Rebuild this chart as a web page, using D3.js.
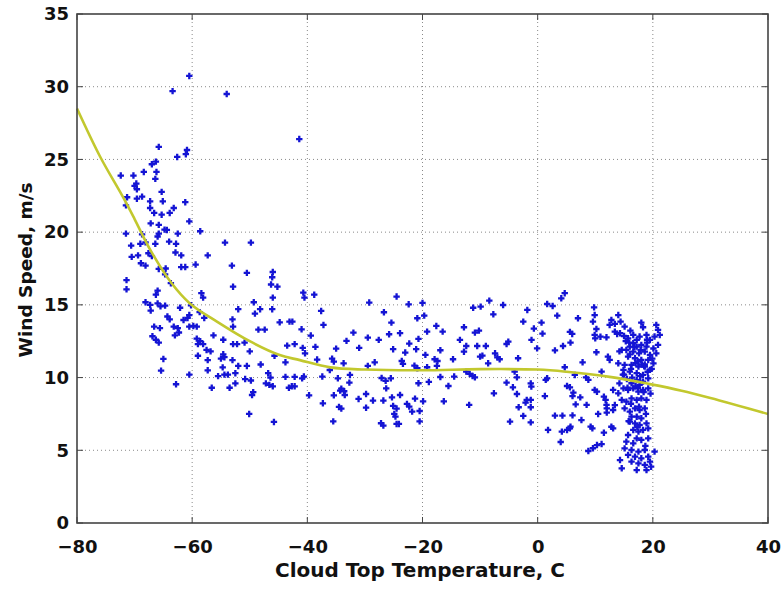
<!DOCTYPE html>
<html><head><meta charset="utf-8">
<script src="https://cdn.jsdelivr.net/npm/d3@7"></script>
<style>body{margin:0;background:#fff}svg text{font-family:"DejaVu Sans",sans-serif;font-weight:bold}</style>
</head><body>
<svg id="c" width="783" height="592"></svg>
<script>
const xTicks=[-80,-60,-40,-20,0,20,40];
const yTicks=[0,5,10,15,20,25,30,35];
const xLabel="Cloud Top Temperature, C";
const yLabel="Wind Speed, m/s";

// scatter: cloud top temperature (C)
const tempC=[
-60.5,-63.4,-54.0,-41.4,-65.8,-60.9,-61.1,-62.6,-66.3,-67.0,-66.2,-68.4,-72.4,-70.2,-66.4,-69.7,-70.0,-69.6,-71.3,-68.7,-65.3,-69.6,-67.3,-71.5,-65.1,-61.2,-67.3,-63.2,-66.6,-65.3,-63.9,-60.5,-67.2,-65.8,-64.8,-64.4,-71.5,-68.7,-62.5,-58.6,-65.8,-66.0,-70.6,-69.0,-68.1,-66.4,-64.0,-62.8,-54.3,-49.8,
-70.5,-69.4,-67.6,-67.0,-62.9,-61.9,-57.3,-68.9,-68.1,-65.8,-64.6,-61.9,-61.2,-59.4,-53.1,-50.5,-46.0,-46.1,-64.7,-71.4,-71.4,-63.7,-52.9,-46.3,-45.2,-66.0,-66.3,-58.4,-58.1,-46.0,-68.1,-67.3,-66.0,-65.5,-64.7,-67.2,-60.2,-49.3,-46.1,-52.0,-49.1,-48.2,-62.1,-58.7,-64.3,-63.9,-61.5,-60.8,-60.5,-57.9,-53.0,-44.8,-43.1,-42.6,-66.6,-65.6,-63.2,-62.5,-60.5,-59.8,-59.2,-52.9,-48.5,-47.4,-62.3,-63.0,-66.9,-66.3,-65.8,-59.2,-56.3,-54.6,-58.6,-59.0,-58.1,-52.9,-52.2,-50.9,-43.5,-42.2,-59.0,-57.5,-56.8,-54.6,-50.0,-65.0,-57.3,-55.0,-54.4,-53.0,-52.0,-50.5,-48.1,-45.7,-43.8,-65.4,-57.3,-54.7,-60.5,-55.5,-54.4,-53.8,-52.5,-50.8,-49.8,-46.8,-46.4,-43.8,-42.2,-62.8,-56.6,-53.5,-52.5,-49.4,-49.6,-47.2,-46.6,-46.0,-43.2,-42.7,-42.2,-50.1,-45.8,
-40.7,-40.5,-38.8,-29.25,-24.5,-22.4,-20.0,-37.6,-26.7,-19.7,-20.9,-37.2,-25.4,-17.6,-16.5,-41.0,-32.0,-25.8,-23.9,-19.2,-39.4,-29.5,-27.6,-33.2,-22.3,-20.7,-40.8,-38.6,-35.0,-31.0,-25.1,-21.1,-16.9,-40.4,-23.0,-19.5,-38.3,-35.7,-35.4,-28.3,-23.6,-17.9,-17.4,-14.7,-36.1,-33.7,-29.5,-23.4,-21.4,-19.2,-17.5,-20.9,-40.6,-40.9,-37.4,-34.7,-32.6,-27.1,-25.5,-16.9,-14.5,-32.7,-26.4,-26.3,-20.7,-18.9,-15.5,-34.1,-33.6,-33.5,-34.3,-35.4,-39.7,-31.1,-29.8,-28.6,-26.8,-25.3,-23.9,-21.3,-19.9,-37.3,-34.5,-34.1,-29.8,-25.1,-24.5,-22.7,-22.3,-21.8,-20.5,-16.3,-24.9,-24.7,-24.5,-24.1,-27.2,-26.8,-35.5,-20.5,
4.7,4.1,-8.4,-11.2,-9.9,-6.0,1.65,2.6,9.8,-7.7,-1.8,3.4,7.0,9.9,-2.5,0.67,9.6,-12.8,-0.66,10.2,-10.9,-10.2,0.84,5.6,6.0,9.9,10.0,10.9,11.95,-13.5,-1.07,-5.1,-5.4,5.7,4.4,-12.4,-10.5,-9.0,-0.1,3.0,-12.8,10.2,-7.4,-10.0,-9.6,-7.0,-6.6,-3.4,12.2,-8.6,7.8,4.7,11.1,-12.4,-11.8,-11.3,-10.9,-4.0,-3.6,1.4,1.65,6.45,8.4,8.8,-5.4,-1.2,-4.3,-1.1,5.1,5.6,9.9,10.3,-7.6,-3.6,6.2,6.05,1.25,7.4,11.5,11.8,-1.9,-1.2,-2.1,-1.2,-11.9,-3.3,6.6,8.5,11.96,-2.5,3.0,4.3,6.05,10.5,12.0,-4.8,-1.2,7.6,5.7,1.8,4.2,5.1,5.6,9.2,9.5,11.5,4.0,8.8,9.6,10.3,11.1,
14.0,12.8,13.4,12.5,14.4,15.1,16.1,18.0,18.3,20.6,20.9,21.2,20.3,13.4,14.3,15.0,15.7,16.6,17.2,17.7,18.9,19.5,16.6,16.0,17.2,18.0,18.9,20.1,20.9,15.4,16.6,17.6,18.6,19.5,20.6,15.7,16.9,18.0,19.2,20.1,12.5,14.0,15.1,16.3,17.5,18.6,19.5,14.9,16.0,17.2,18.3,19.2,17.2,18.3,16.3,17.7,
13.1,14.0,14.9,15.7,16.6,17.5,18.3,19.2,13.4,14.6,15.4,16.3,17.2,18.0,18.9,12.0,13.1,15.1,16.0,16.9,17.7,18.6,16.3,17.2,18.0,16.0,16.9,17.7,18.9,16.6,17.5,18.3,19.2,13.1,12.8,15.7,17.2,18.0,19.2,15.4,16.6,15.1,16.3,17.5,18.6,20.3,15.7,16.9,18.0,19.2,14.3,16.3,17.5,18.6,19.5,14.6,17.2,18.9,19.7,
14.8,15.5,16.2,17.0,17.8,18.5,19.0,14.2,15.9,17.4,18.1,19.8,
13.8,15.3,16.8,17.9,19.0,14.6,16.0,17.4,18.6,19.9,15.0,16.4,17.8,19.1,14.2,15.6,17.0,18.4,19.6,16.2,17.6,18.8,15.8,17.3,18.7
];
// scatter: wind speed (m/s)
const windSpeed=[
30.74,29.7,29.5,26.4,25.86,25.65,25.36,25.17,24.85,24.67,24.14,24.14,23.89,23.89,23.66,23.34,23.18,22.95,22.4,22.44,22.77,22.3,22.12,21.84,22.12,22.06,21.66,21.66,21.32,21.2,21.32,20.74,20.6,20.5,20.17,20.15,19.9,19.85,19.9,20.06,19.9,19.7,19.07,19.2,19.3,19.2,19.35,19.2,19.28,19.28,
18.3,18.4,18.55,18.35,18.6,18.4,18.4,17.86,17.7,17.47,17.5,17.6,17.6,17.77,17.7,17.2,17.26,16.9,17.1,16.7,16.07,16.49,16.25,16.4,16.25,15.98,15.7,15.8,15.5,15.5,15.18,15.0,15.1,14.9,14.95,14.6,14.97,15.18,14.7,14.7,14.4,14.7,14.8,14.5,14.2,14.0,13.96,14.1,14.3,14.1,14.0,13.8,13.85,13.85,13.5,13.4,13.5,13.4,13.5,13.55,13.5,13.5,13.3,13.3,13.1,12.9,12.84,12.6,12.4,12.68,12.9,12.6,12.5,12.3,12.3,12.3,12.3,12.4,12.2,12.3,11.5,11.9,11.8,11.6,11.8,11.28,11.2,11.3,11.4,11.2,10.8,10.8,10.9,11.5,11.05,10.48,10.5,10.7,10.2,10.1,10.2,10.2,10.3,9.9,9.8,10.3,10.0,10.05,10.05,9.54,9.3,9.3,9.6,9.0,8.8,9.6,9.5,9.4,9.3,9.4,9.4,7.5,6.95,
15.84,15.5,15.7,15.16,15.57,15.04,15.13,14.58,14.49,14.26,14.08,13.62,13.78,13.55,13.16,13.32,13.09,12.98,13.05,13.16,12.89,12.75,12.59,12.52,12.34,12.66,12.04,12.11,11.99,12.04,11.95,11.95,11.88,11.67,11.72,11.56,11.24,11.3,11.1,11.05,11.14,11.26,11.14,11.26,10.52,10.98,10.8,10.94,10.82,10.71,10.8,10.64,10.07,9.95,10.07,9.95,10.18,9.97,9.95,10.04,10.07,9.65,9.77,9.26,9.61,9.7,9.42,9.24,9.06,8.8,9.1,8.78,8.78,8.53,8.87,8.42,8.42,8.64,8.8,8.55,8.37,8.23,7.98,7.87,7.93,8.05,7.87,8.19,8.0,7.66,7.7,8.37,7.5,7.32,6.81,6.81,6.86,6.7,6.99,6.99,
15.8,15.45,15.29,14.8,14.88,14.99,15.06,14.92,14.83,14.35,14.65,14.26,14.08,14.3,13.85,13.78,13.85,13.46,13.37,13.34,13.09,13.23,13.02,13.14,13.0,12.93,12.7,12.81,12.77,12.59,12.59,12.47,12.31,12.4,12.17,12.17,12.17,12.17,12.01,11.87,11.78,11.74,11.67,11.44,11.51,11.39,11.26,11.33,11.44,10.98,11.05,10.71,10.41,10.41,10.25,10.11,10.02,10.41,10.02,9.84,9.95,10.18,10.02,9.84,9.65,9.6,9.33,9.38,9.42,9.33,9.15,9.03,8.92,8.87,8.96,8.73,8.73,8.64,8.69,8.46,8.46,8.46,8.28,7.96,8.12,7.96,8.16,8.12,8.12,7.36,7.38,7.38,7.4,7.5,7.59,6.97,6.92,7.08,6.63,6.4,6.28,6.4,6.51,6.63,6.51,6.21,5.57,4.95,5.14,5.36,5.43,
14.3,13.96,13.69,13.62,13.85,13.5,13.23,13.78,13.46,13.62,13.28,12.93,12.82,13.16,13.05,12.86,12.7,12.93,12.59,12.82,12.93,12.59,12.36,12.13,12.13,12.25,12.13,12.0,12.25,11.9,11.79,11.67,11.79,11.56,11.67,11.44,11.33,11.21,11.21,10.98,11.21,10.98,10.87,10.87,10.76,10.76,10.53,10.53,10.41,10.3,10.18,9.95,9.84,9.72,9.61,9.5,
9.15,8.92,9.26,9.15,9.26,9.03,9.15,9.26,8.11,8.46,8.34,8.57,8.46,8.57,8.46,7.88,7.77,7.88,7.66,7.88,7.77,7.88,7.31,7.31,7.2,6.97,6.85,6.74,6.85,6.4,6.28,6.4,6.51,6.51,6.62,6.05,5.82,5.71,5.82,5.59,5.48,5.13,5.02,4.91,5.02,4.91,4.68,4.56,4.45,4.56,4.33,4.22,4.1,3.99,4.22,3.76,3.64,3.64,3.87,
10.2,9.9,10.6,11.0,9.7,10.8,12.6,11.8,12.4,9.3,10.9,10.6,
13.0,12.5,12.1,11.9,12.4,11.9,11.6,11.1,10.9,11.3,10.2,10.0,10.1,10.4,9.6,9.3,9.4,9.0,8.9,8.2,8.0,7.5,7.0,6.6,5.3
];

// fitted curve
const fitTemp=[-80,-76,-72,-70,-67.3,-63.6,-60.4,-55.7,-50,-44.8,-41.3,-36,-30,-20,-10,0,5,12.5,19.5,25,30,40];
const fitSpeed=[28.5,25.2,22.4,20.9,18.8,16.5,15.1,13.85,12.5,11.55,11.2,10.7,10.55,10.5,10.58,10.55,10.4,10.05,9.55,9.1,8.6,7.5];

const L=77,R=768,T=14,B=523;
const svg=d3.select("#c");
const x=d3.scaleLinear().domain([-80,40]).range([L,R]);
const y=d3.scaleLinear().domain([0,35]).range([B,T]);

// grid
const g=svg.append("g");
g.selectAll(".gx").data(xTicks.slice(1,-1)).join("line")
 .attr("x1",d=>x(d)).attr("x2",d=>x(d)).attr("y1",T).attr("y2",B)
 .attr("stroke","#8a8a8a").attr("stroke-width",1).attr("stroke-dasharray","1,3");
g.selectAll(".gy").data(yTicks.slice(1,-1)).join("line")
 .attr("y1",d=>y(d)).attr("y2",d=>y(d)).attr("x1",L).attr("x2",R)
 .attr("stroke","#8a8a8a").attr("stroke-width",1).attr("stroke-dasharray","1,3");

// points
const pts=tempC.map((t,i)=>[t,windSpeed[i]]);
const s=3.2;
svg.append("g").selectAll("path").data(pts).join("path")
 .attr("d",d=>{const px=x(d[0]),py=y(d[1]);return `M${px-s},${py}H${px+s}M${px},${py-s}V${py+s}`;})
 .attr("stroke","#1414d4").attr("stroke-width",2.3).attr("fill","none");

// fit line
const line=d3.line().x((d,i)=>x(fitTemp[i])).y((d,i)=>y(fitSpeed[i])).curve(d3.curveCatmullRom);
svg.append("path").datum(fitTemp).attr("d",line)
 .attr("fill","none").attr("stroke","#c2c82e").attr("stroke-width",2.6);

// axes
const ax=svg.append("g").attr("transform",`translate(0,${B})`)
 .call(d3.axisBottom(x).tickValues(xTicks).tickSize(0).tickPadding(17).tickFormat(d3.format("d")));
const ay=svg.append("g").attr("transform",`translate(${L},0)`)
 .call(d3.axisLeft(y).tickValues(yTicks).tickSize(0).tickPadding(8).tickFormat(d3.format("d")));
[ax,ay].forEach(a=>{a.select(".domain").remove();a.selectAll("text").attr("font-size",18).attr("fill","#111").attr("font-family","DejaVu Sans").attr("font-weight","bold");});

// inward ticks on all four sides
const tk=svg.append("g").attr("stroke","#444").attr("stroke-width",1);
xTicks.forEach(v=>{tk.append("line").attr("x1",x(v)).attr("x2",x(v)).attr("y1",B).attr("y2",B-6);
 tk.append("line").attr("x1",x(v)).attr("x2",x(v)).attr("y1",T).attr("y2",T+6);});
yTicks.forEach(v=>{tk.append("line").attr("y1",y(v)).attr("y2",y(v)).attr("x1",L).attr("x2",L+6);
 tk.append("line").attr("y1",y(v)).attr("y2",y(v)).attr("x1",R).attr("x2",R-6);});

svg.append("rect").attr("x",L).attr("y",T).attr("width",R-L).attr("height",B-T)
 .attr("fill","none").attr("stroke","#444").attr("stroke-width",1.6);

svg.append("text").attr("x",420).attr("y",577).attr("text-anchor","middle")
 .attr("font-size",20).attr("fill","#111").text(xLabel);
svg.append("text").attr("transform",`translate(32,270) rotate(-90)`).attr("text-anchor","middle")
 .attr("font-size",18.5).attr("fill","#111").text(yLabel);
</script>
</body></html>
